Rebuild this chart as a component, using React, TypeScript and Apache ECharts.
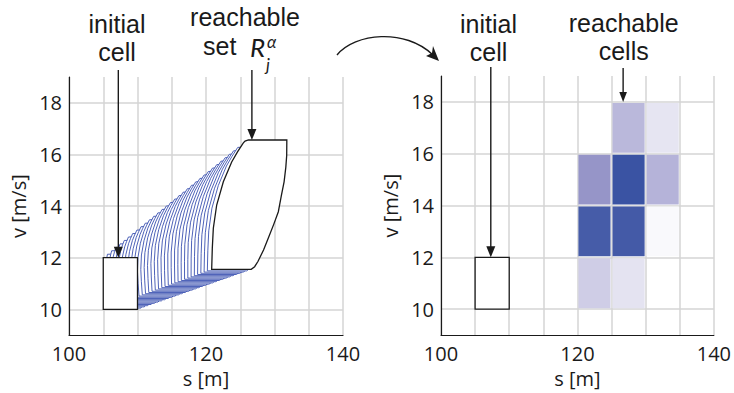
import React, { useEffect, useRef } from "react";
import * as echarts from "echarts";

// ---- axes ----
const S_MIN = 100;
const S_MAX = 140;
const S_STEP = 5;
const S_LABELS = [100, 120, 140];
const V_MIN = 9;
const V_MAX = 19;
const V_LABELS = [10, 12, 14, 16, 18];

// ---- initial cell (s0, s1, v0, v1) ----
const INITIAL_CELL = [105, 110, 10, 12];

// ---- reachable set outline, left and right boundaries (bottom -> top) ----
const REACH_LEFT: [number, number][] = [
  [120.83, 11.55], [120.92, 12.37], [121.07, 13.14], [121.56, 14.04],
  [122.53, 14.94], [123.75, 15.71], [124.6, 16.1], [125.45, 16.45],
];
const REACH_TOP_CORNER: [number, number][] = [[125.7, 16.52], [126.2, 16.56]];
const REACH_RIGHT: [number, number][] = [
  [126.6, 11.55], [127.1, 11.65], [127.6, 11.86], [128.4, 12.3], [129.1, 12.76],
  [129.9, 13.3], [130.56, 13.78], [131.0, 14.4], [131.4, 14.94], [131.65, 15.5],
  [131.78, 15.96], [131.8, 16.56],
];

// ---- intermediate time steps of the reachable set (fraction of the horizon) ----
const TIME_STEPS = [
  0.03, 0.06, 0.09, 0.12, 0.15, 0.18, 0.21, 0.24, 0.27, 0.3, 0.33, 0.36, 0.39, 0.42, 0.45, 0.48,
  0.51, 0.54, 0.57, 0.6, 0.63, 0.66, 0.69, 0.72, 0.75, 0.78, 0.81, 0.84, 0.87, 0.9, 0.93, 0.96,
];

// ---- reachable cells: lower-left corner and occupation probability ----
const CELL_DS = 5;
const CELL_DV = 2;
const CELL_S0 = [125, 130, 120, 125, 130, 120, 125, 130, 120, 125];
const CELL_V0 = [16, 16, 14, 14, 14, 12, 12, 12, 10, 10];
const CELL_PROB = [0.33, 0.12, 0.66, 1.0, 0.37, 0.956, 0.963, 0.03, 0.23, 0.13];

const INK = "#1a1a1a";
const GRID = "#d4d4d4";
const BLUE = "#3a50b0";
const FONT = '"Open Sans", "DejaVu Sans", sans-serif';
const NOTE_FONT = '"Liberation Sans", Arial, sans-serif';
const MATH_FONT = 'Lato, "Open Sans", sans-serif';

// Blend one boundary of the initial cell (vertical edge at sInit) into a boundary of the final set.
function blendEdge(edge: [number, number][], sInit: number, t: number): [number, number][] {
  const [s0, v0] = edge[0];
  const [s1, v1] = edge[edge.length - 1];
  const bend = Math.sqrt(t);
  return edge.map(([s, v]) => {
    const u = (v - v0) / (v1 - v0);
    const straight = s0 + u * (s1 - s0);
    const dev = s - straight;
    const vInit = INITIAL_CELL[2] + u * (INITIAL_CELL[3] - INITIAL_CELL[2]);
    return [sInit + (straight - sInit) * t + dev * bend, vInit + (v - vInit) * t] as [number, number];
  });
}

const hatchSets: [number, number][][] = TIME_STEPS.map((t) => {
  const left = blendEdge(REACH_LEFT, INITIAL_CELL[0], t);
  const right = blendEdge(REACH_RIGHT, INITIAL_CELL[1], t);
  return [...left, ...right.slice().reverse()];
});

const finalSet: [number, number][] = [
  ...REACH_LEFT,
  ...REACH_TOP_CORNER,
  ...REACH_RIGHT.slice().reverse(),
];

function makeXAxis(gridIndex: number) {
  return {
    type: "value",
    gridIndex,
    min: S_MIN,
    max: S_MAX,
    interval: S_STEP,
    name: "s [m]",
    nameLocation: "middle",
    nameGap: 31,
    nameTextStyle: { color: INK, fontSize: 20, fontFamily: FONT },
    axisLine: { show: true, onZero: false, lineStyle: { color: INK, width: 1.2 } },
    axisTick: { show: false },
    axisLabel: {
      color: INK,
      fontSize: 20,
      fontFamily: FONT,
      margin: 8,
      formatter: (v: number) => (S_LABELS.includes(v) ? String(v) : ""),
    },
    splitLine: { show: true, lineStyle: { color: GRID, width: 1.5 } },
  };
}

function makeYAxis(gridIndex: number) {
  return {
    type: "value",
    gridIndex,
    min: V_MIN,
    max: V_MAX,
    interval: 1,
    name: "v [m/s]",
    nameLocation: "middle",
    nameGap: 41,
    nameTextStyle: { color: INK, fontSize: 20, fontFamily: FONT },
    axisLine: { show: true, onZero: false, lineStyle: { color: INK, width: 1.2 } },
    axisTick: { show: false },
    axisLabel: {
      color: INK,
      fontSize: 20,
      fontFamily: FONT,
      margin: 7,
      formatter: (v: number) => (V_LABELS.includes(v) ? String(v) : ""),
    },
    // lines only on the even (labelled) speeds
    splitLine: { show: true, lineStyle: { color: ["rgba(0,0,0,0)", GRID], width: 1.5 } },
  };
}

function cellRect(api: any, s0: number, s1: number, v0: number, v1: number, inset: number) {
  const a = api.coord([s0, v1]);
  const b = api.coord([s1, v0]);
  return { x: a[0] + inset, y: a[1] + inset, width: b[0] - a[0] - 2 * inset, height: b[1] - a[1] - 2 * inset };
}

function downArrow(x: number, yTop: number, yTip: number, head: number, half: number) {
  return [
    {
      type: "line",
      z: 100,
      shape: { x1: x, y1: yTop, x2: x, y2: yTip - head + 1 },
      style: { stroke: INK, lineWidth: 1.4 },
    },
    {
      type: "polygon",
      z: 100,
      shape: { points: [[x, yTip], [x - half, yTip - head], [x + half, yTip - head]] },
      style: { fill: INK },
    },
  ];
}

function note(
  text: string,
  x: number,
  y: number,
  size: number,
  opts: { align?: string; italic?: boolean; lineHeight?: number; family?: string } = {}
) {
  const align = opts.align || "center";
  return {
    type: "text",
    z: 100,
    x,
    y,
    style: {
      text,
      fill: INK,
      fontSize: size,
      fontFamily: opts.family || NOTE_FONT,
      fontStyle: opts.italic ? "italic" : "normal",
      lineHeight: opts.lineHeight || Math.round(size * 1.15),
      align,
      verticalAlign: "middle",
      textAlign: align,
      textVerticalAlign: "middle",
    },
  };
}

export default function App() {
  const ref = useRef<HTMLDivElement>(null);

  useEffect(() => {
    if (!ref.current) return;
    const chart = echarts.init(ref.current, undefined, { renderer: "svg" });

    const option: any = {
      animation: false,
      backgroundColor: "#ffffff",
      grid: [
        { left: 69, top: 77, width: 274, height: 260 },
        { left: 441, top: 76, width: 274, height: 260 },
      ],
      xAxis: [makeXAxis(0), makeXAxis(1)],
      yAxis: [makeYAxis(0), makeYAxis(1)],
      visualMap: {
        show: false,
        type: "continuous",
        seriesIndex: 3,
        dimension: 4,
        min: 0,
        max: 1,
        inRange: { color: ["#ffffff", "#b9b7db", "#9594c8", "#3a53a3"] },
      },
      series: [
        {
          // intermediate reachable sets
          type: "custom",
          xAxisIndex: 0,
          yAxisIndex: 0,
          silent: true,
          data: hatchSets.map((poly, i) => [poly[0][0], poly[0][1], i]),
          encode: { x: 0, y: 1 },
          renderItem: (_p: any, api: any) => ({
            type: "polygon",
            shape: { points: hatchSets[api.value(2)].map((pt) => api.coord(pt)) },
            style: { fill: "#ffffff", stroke: BLUE, lineWidth: 0.9 },
          }),
        },
        {
          // final reachable set
          type: "custom",
          xAxisIndex: 0,
          yAxisIndex: 0,
          silent: true,
          data: [[finalSet[0][0], finalSet[0][1]]],
          encode: { x: 0, y: 1 },
          renderItem: (_p: any, api: any) => ({
            type: "polygon",
            shape: { points: finalSet.map((pt) => api.coord(pt)) },
            style: { fill: "#ffffff", stroke: INK, lineWidth: 1.3 },
          }),
        },
        {
          // initial cell, left
          type: "custom",
          xAxisIndex: 0,
          yAxisIndex: 0,
          silent: true,
          data: [INITIAL_CELL],
          encode: { x: [0, 1], y: [2, 3] },
          renderItem: (_p: any, api: any) => ({
            type: "rect",
            shape: cellRect(api, api.value(0), api.value(1), api.value(2), api.value(3), 0),
            style: { fill: "#ffffff", stroke: INK, lineWidth: 1.3 },
          }),
        },
        {
          // reachable cells with occupation probability
          type: "custom",
          xAxisIndex: 1,
          yAxisIndex: 1,
          silent: true,
          data: CELL_S0.map((s, i) => [s, s + CELL_DS, CELL_V0[i], CELL_V0[i] + CELL_DV, CELL_PROB[i]]),
          encode: { x: [0, 1], y: [2, 3] },
          renderItem: (_p: any, api: any) => ({
            type: "rect",
            shape: cellRect(api, api.value(0), api.value(1), api.value(2), api.value(3), 1),
            style: { fill: api.visual("color") },
          }),
        },
        {
          // initial cell, right
          type: "custom",
          xAxisIndex: 1,
          yAxisIndex: 1,
          silent: true,
          data: [INITIAL_CELL],
          encode: { x: [0, 1], y: [2, 3] },
          renderItem: (_p: any, api: any) => ({
            type: "rect",
            shape: cellRect(api, api.value(0), api.value(1), api.value(2), api.value(3), 0),
            style: { fill: "#ffffff", stroke: INK, lineWidth: 1.3 },
          }),
        },
      ],
    };
    chart.setOption(option);

    const px = (g: number, s: number, v: number) => chart.convertToPixel({ gridIndex: g } as any, [s, v]) as number[];
    const leftInit = px(0, 107.2, INITIAL_CELL[3]);
    const leftReach = px(0, 126.7, REACH_TOP_CORNER[1][1]);
    const rightInit = px(1, 107.3, INITIAL_CELL[3]);
    const rightReach = px(1, 126.7, 18);

    const graphic: any[] = [
      ...downArrow(leftInit[0], 70, leftInit[1], 11, 4.5),
      ...downArrow(leftReach[0], 70, leftReach[1], 11, 4.5),
      ...downArrow(rightInit[0], 67, rightInit[1], 11, 4.5),
      ...downArrow(rightReach[0], 68, rightReach[1], 10, 3.8),
      note("initial\ncell", 117, 38, 25, { lineHeight: 28 }),
      note("reachable", 245, 16.5, 25),
      note("set", 203, 46.3, 25, { align: "left" }),
      note("R", 250, 46.5, 26, { align: "left", italic: true, family: MATH_FONT }),
      note("α", 267, 41, 17, { align: "left", italic: true, family: MATH_FONT }),
      note("j", 266, 64, 17, { align: "left", italic: true, family: MATH_FONT }),
      note("initial\ncell", 488.5, 38.3, 25, { lineHeight: 28 }),
      note("reachable\ncells", 623.7, 37, 25, { lineHeight: 28 }),
      {
        type: "bezierCurve",
        z: 100,
        shape: { x1: 337, y1: 55, cpx1: 355, cpy1: 33, cpx2: 405, cpy2: 28, x2: 433, y2: 55 },
        style: { stroke: INK, lineWidth: 1.4, fill: "none" },
      },
      {
        type: "polygon",
        z: 100,
        shape: { points: [[439, 61], [426, 56], [432, 53], [433, 46]] },
        style: { fill: INK },
      },
    ];
    chart.setOption({ graphic });

    return () => chart.dispose();
  }, []);

  return (
    <div
      ref={ref}
      style={{ position: "fixed", left: 0, top: 0, width: 734, height: 393, background: "#ffffff" }}
    />
  );
}
